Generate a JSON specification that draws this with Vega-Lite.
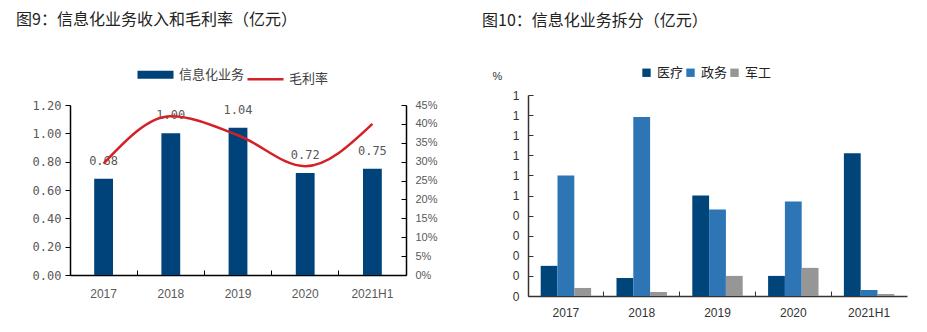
{
  "$schema": "https://vega.github.io/schema/vega-lite/v6.json",
  "padding": {"left": 16, "top": 12, "right": 20, "bottom": 5},
  "config": {
    "view": {"stroke": null},
    "font": "Noto Sans CJK SC",
    "concat": {"spacing": 44}
  },
  "resolve": {"scale": {"color": "independent"}, "legend": {"color": "independent"}},
  "hconcat": [
    {
      "title": {"text": "图9：信息化业务收入和毛利率（亿元）", "anchor": "start", "frame": "bounds", "dx": -16, "fontSize": 16, "fontWeight": "normal", "color": "#222222", "offset": 40},
      "width": 336,
      "height": 180,
      "data": {"values": [
        {"year": "2017", "rev": 0.68, "margin": 0.295},
        {"year": "2018", "rev": 1.00, "margin": 0.42},
        {"year": "2019", "rev": 1.04, "margin": 0.37},
        {"year": "2020", "rev": 0.72, "margin": 0.288},
        {"year": "2021H1", "rev": 0.75, "margin": 0.40}
      ]},
      "encoding": {
        "x": {"field": "year", "type": "nominal", "sort": null,
          "scale": {"paddingInner": 0, "paddingOuter": 0},
          "axis": {"title": null, "labelAngle": 0, "bandPosition": 0, "domainColor": "#000000", "domainWidth": 1.5, "tickColor": "#000000", "tickSize": -5, "labelPadding": 18, "labelFont": "Liberation Sans", "labelFontSize": 12, "labelColor": "#595959"}}
      },
      "layer": [
        {
          "encoding": {
            "y": {"field": "rev", "type": "quantitative", "scale": {"domain": [0, 1.2], "range": [180, 10]},
              "axis": {"title": null, "values": [0, 0.2, 0.4, 0.6, 0.8, 1.0, 1.2], "format": ".2f", "grid": false, "domainColor": "#000000", "domainWidth": 1.5, "tickColor": "#000000", "tickSize": 5, "labelPadding": 4, "labelFont": "DejaVu Sans Mono", "labelFontSize": 12, "labelColor": "#595959"}}
          },
          "layer": [
            {
              "mark": {"type": "bar", "width": {"band": 0.28}},
              "encoding": {
                "color": {"datum": "信息化业务", "type": "nominal",
                  "scale": {"domain": ["信息化业务", "毛利率"], "range": ["#00427a", "#d42027"]},
                  "legend": {"orient": "none", "direction": "horizontal", "legendX": 79, "legendY": -27, "title": null, "padding": 0,
                    "symbolType": "stroke", "symbolSize": 1296, "symbolStrokeWidth": 3, "labelFontSize": 13, "labelColor": "#404040", "labelOffset": 17, "columnPadding": -3,
                    "encode": {"symbols": {"update": {"strokeWidth": {"signal": "datum.value === '信息化业务' ? 8 : 2.5"}}}}}}
              }
            },
            {
              "mark": {"type": "text", "dy": -18, "baseline": "middle", "font": "DejaVu Sans Mono", "fontSize": 12, "color": "#595959"},
              "encoding": {"text": {"field": "rev", "type": "quantitative", "format": ".2f"}}
            }
          ]
        },
        {
          "mark": {"type": "line", "interpolate": "monotone", "strokeWidth": 2.5},
          "encoding": {
            "y": {"field": "margin", "type": "quantitative", "scale": {"domain": [0, 0.45], "range": [180, 10]},
              "axis": {"orient": "right", "title": null, "values": [0, 0.05, 0.1, 0.15, 0.2, 0.25, 0.3, 0.35, 0.4, 0.45], "format": ".0%", "grid": false, "domainColor": "#000000", "domainWidth": 1.5, "tickColor": "#000000", "tickSize": -5, "labelPadding": 14, "labelFont": "Liberation Sans", "labelFontSize": 11, "labelColor": "#595959"}},
            "color": {"datum": "毛利率", "type": "nominal"}
          }
        }
      ],
      "resolve": {"scale": {"y": "independent"}}
    },
    {
      "title": {"text": "图10：信息化业务拆分（亿元）", "anchor": "start", "frame": "bounds", "dx": -10, "fontSize": 16, "fontWeight": "normal", "color": "#222222", "offset": 37},
      "width": 379,
      "height": 201,
      "data": {"values": [
        {"year": "2017", "cat": "医疗", "value": 0.15},
        {"year": "2017", "cat": "政务", "value": 0.60},
        {"year": "2017", "cat": "军工", "value": 0.04},
        {"year": "2018", "cat": "医疗", "value": 0.09},
        {"year": "2018", "cat": "政务", "value": 0.89},
        {"year": "2018", "cat": "军工", "value": 0.02},
        {"year": "2019", "cat": "医疗", "value": 0.50},
        {"year": "2019", "cat": "政务", "value": 0.43},
        {"year": "2019", "cat": "军工", "value": 0.10},
        {"year": "2020", "cat": "医疗", "value": 0.10},
        {"year": "2020", "cat": "政务", "value": 0.47},
        {"year": "2020", "cat": "军工", "value": 0.14},
        {"year": "2021H1", "cat": "医疗", "value": 0.71},
        {"year": "2021H1", "cat": "政务", "value": 0.03},
        {"year": "2021H1", "cat": "军工", "value": 0.01}
      ]},
      "mark": {"type": "bar"},
      "encoding": {
        "x": {"field": "year", "type": "nominal", "sort": null,
          "scale": {"paddingInner": 0, "paddingOuter": 0},
          "axis": {"title": null, "labelAngle": 0, "bandPosition": 0, "domainColor": "#333333", "domainWidth": 1.5, "tickColor": "#333333", "tickSize": -5, "labelPadding": 16, "labelFont": "Liberation Sans", "labelFontSize": 12, "labelColor": "#333333"}},
        "xOffset": {"field": "cat", "type": "nominal", "sort": ["医疗", "政务", "军工"], "scale": {"paddingInner": 0, "paddingOuter": 0.755}},
        "y": {"field": "value", "type": "quantitative", "scale": {"domain": [0, 1]},
          "axis": {"title": "%", "titleAngle": 0, "titleAlign": "center", "titleBaseline": "middle", "titleX": -31, "titleY": -19, "titleFont": "Liberation Sans", "titleFontSize": 11, "titleFontWeight": "normal", "titleColor": "#333333",
            "values": [0, 0.1, 0.2, 0.3, 0.4, 0.5, 0.6, 0.7, 0.8, 0.9, 1.0], "format": ".0f", "grid": false, "domainColor": "#333333", "domainWidth": 1.5, "tickColor": "#333333", "tickSize": -5, "labelPadding": 14, "labelFont": "Liberation Sans", "labelFontSize": 12, "labelColor": "#333333"}},
        "color": {"field": "cat", "type": "nominal", "sort": ["医疗", "政务", "军工"],
          "scale": {"domain": ["医疗", "政务", "军工"], "range": ["#00457a", "#2e75b6", "#969696"]},
          "legend": {"orient": "none", "direction": "horizontal", "legendX": 112, "legendY": -29, "title": null, "padding": 0, "symbolType": "square", "symbolSize": 70, "symbolStrokeWidth": 0, "labelFontSize": 13, "labelColor": "#222222", "labelOffset": 4, "columnPadding": -1}}
      }
    }
  ]
}
